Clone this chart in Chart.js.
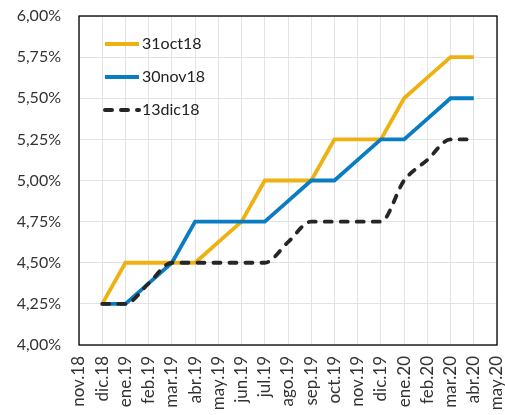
<!DOCTYPE html>
<html>
<head>
<meta charset="UTF-8">
<script src="https://cdn.jsdelivr.net/npm/chart.js"></script>
<style>
  html, body { margin: 0; padding: 0; background: #fff; }
  #wrap { width: 505px; height: 415px; }
</style>
</head>
<body>
<div id="wrap"><canvas id="grafico"></canvas></div>
<script>
// meses del eje x
const meses = ['nov.18', 'dic.18', 'ene.19', 'feb.19', 'mar.19', 'abr.19', 'may.19', 'jun.19', 'jul.19',
  'ago.19', 'sep.19', 'oct.19', 'nov.19', 'dic.19', 'ene.20', 'feb.20', 'mar.20', 'abr.20', 'may.20'];

// tasas (%)
const oct31 = [null, 4.25, 4.50, 4.50, 4.50, 4.50, 4.625, 4.75, 5.00, 5.00, 5.00, 5.25, 5.25, 5.25, 5.50, 5.625, 5.75, 5.75, null];
const nov30 = [null, 4.25, 4.25, 4.375, 4.50, 4.75, 4.75, 4.75, 4.75, 4.875, 5.00, 5.00, 5.125, 5.25, 5.25, 5.375, 5.50, 5.50, null];
const dic13 = [null, 4.25, 4.25, 4.375, 4.50, 4.50, 4.50, 4.50, 4.50, 4.625, 4.75, 4.75, 4.75, 4.75, 5.00, 5.125, 5.25, 5.25, null];

const yMin = 4.0, yMax = 6.0, yPaso = 0.25;

const fuente = 'Lato, "Open Sans", sans-serif';
const gris = '#333';

// leyenda dentro del grafico + marco
const extras = {
  id: 'extras',
  beforeDatasetsDraw(chart) {
    const a = chart.chartArea, ctx = chart.ctx;
    ctx.save();
    ctx.strokeStyle = '#000';
    ctx.lineWidth = 1.3;
    ctx.strokeRect(a.left, a.top, a.right - a.left, a.bottom - a.top);
    ctx.restore();
  },
  afterDraw(chart) {
    const ctx = chart.ctx;
    ctx.save();
    ctx.font = '16px ' + fuente;
    ctx.textBaseline = 'middle';
    chart.data.datasets.forEach((ds, i) => {
      const y = 44 + i * 33;
      ctx.strokeStyle = ds.borderColor;
      ctx.lineWidth = 4;
      ctx.lineCap = ds.borderDash ? 'round' : 'butt';
      ctx.setLineDash(ds.borderDash || []);
      ctx.beginPath();
      ctx.moveTo(105, y);
      ctx.lineTo(139, y);
      ctx.stroke();
      ctx.setLineDash([]);
      ctx.fillStyle = '#222';
      ctx.fillText(ds.label, 142, y);
    });
    ctx.restore();
  }
};

new Chart(document.getElementById('grafico'), {
  type: 'line',
  data: {
    labels: meses,
    datasets: [
      { label: '31oct18', data: oct31, borderColor: '#EEB111', borderWidth: 3.8, pointRadius: 0, order: 2 },
      { label: '30nov18', data: nov30, borderColor: '#0A7CC2', borderWidth: 3.8, pointRadius: 0, order: 1 },
      { label: '13dic18', data: dic13, borderColor: '#262626', borderWidth: 3.8, pointRadius: 0, order: 0,
        borderDash: [7, 9], borderCapStyle: 'round', cubicInterpolationMode: 'monotone' }
    ]
  },
  options: {
    responsive: true,
    maintainAspectRatio: false,
    animation: false,
    layout: { padding: { top: 16, right: 8, left: 0, bottom: 0 } },
    plugins: { legend: { display: false }, tooltip: { enabled: false } },
    scales: {
      x: {
        offset: false,
        grid: { color: '#e3e3e3', drawTicks: false },
        border: { display: false },
        afterFit(s) { s.height = 70; s.paddingLeft = 0; s.paddingRight = 0; },
        ticks: {
          color: gris, font: { family: fuente, size: 17 },
          minRotation: 90, maxRotation: 90, autoSkip: false, padding: 11
        }
      },
      y: {
        min: yMin, max: yMax,
        grid: { color: '#e3e3e3', drawTicks: false },
        border: { display: false },
        afterFit(s) { s.width = 79; s.paddingTop = 0; s.paddingBottom = 0; },
        ticks: {
          stepSize: yPaso, color: gris, font: { family: fuente, size: 16 }, padding: 18,
          callback: v => v.toFixed(2).replace('.', ',') + '%'
        }
      }
    }
  },
  plugins: [extras]
});
</script>
</body>
</html>
